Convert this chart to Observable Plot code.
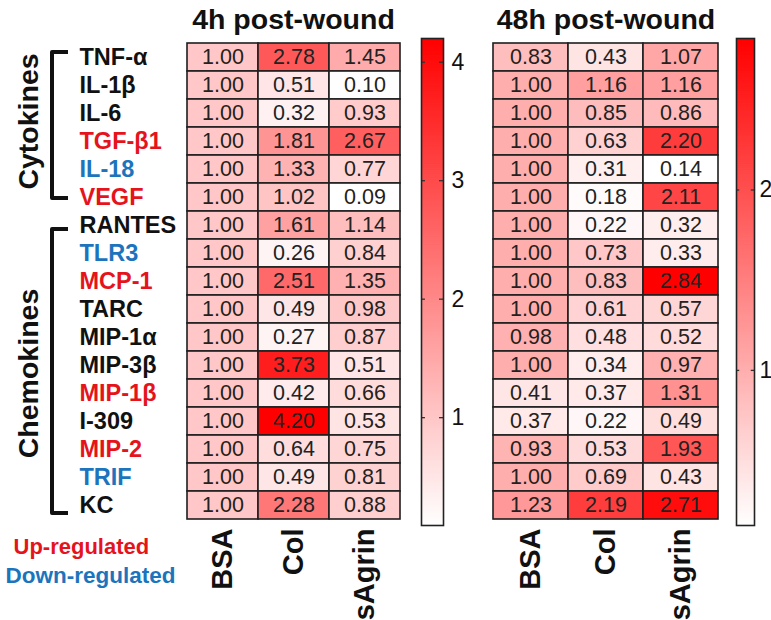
<!DOCTYPE html>
<html><head><meta charset="utf-8">
<script src="https://cdn.jsdelivr.net/npm/d3@7"></script>
<script src="https://cdn.jsdelivr.net/npm/@observablehq/plot@0.6"></script>
<style>
body{margin:0;background:#fff}
#chart{position:relative;width:771px;height:620px;overflow:hidden;background:#fff}
#chart svg{position:absolute;left:0;top:0}
</style>
</head><body><div id="chart"></div>
<script>
// ---- data ----
const genes = ["TNF-α","IL-1β","IL-6","TGF-β1","IL-18","VEGF","RANTES","TLR3","MCP-1","TARC","MIP-1α","MIP-3β","MIP-1β","I-309","MIP-2","TRIF","KC"];
const geneRegulation = ["none","none","none","up","down","up","none","down","up","none","none","none","up","none","up","down","none"];
const treatments = ["BSA","Col","sAgrin"];
const groupNames = ["Cytokines","Chemokines"];
const groupFirst = ["TNF-α","RANTES"];
const groupLast = ["VEGF","KC"];
const legendLabels = ["Up-regulated","Down-regulated"];

const h4_BSA    = [1.00,1.00,1.00,1.00,1.00,1.00,1.00,1.00,1.00,1.00,1.00,1.00,1.00,1.00,1.00,1.00,1.00];
const h4_Col    = [2.78,0.51,0.32,1.81,1.33,1.02,1.61,0.26,2.51,0.49,0.27,3.73,0.42,4.20,0.64,0.49,2.28];
const h4_sAgrin = [1.45,0.10,0.93,2.67,0.77,0.09,1.14,0.84,1.35,0.98,0.87,0.51,0.66,0.53,0.75,0.81,0.88];

const h48_BSA    = [0.83,1.00,1.00,1.00,1.00,1.00,1.00,1.00,1.00,1.00,0.98,1.00,0.41,0.37,0.93,1.00,1.23];
const h48_Col    = [0.43,1.16,0.85,0.63,0.31,0.18,0.22,0.73,0.83,0.61,0.48,0.34,0.37,0.22,0.53,0.69,2.19];
const h48_sAgrin = [1.07,1.16,0.86,2.20,0.14,2.11,0.32,0.33,2.84,0.57,0.52,0.97,1.31,0.49,1.93,0.43,2.71];

const ticks4 = [1,2,3,4];
const ticks48 = [1,2];

// ---- styling ----
const W = 771, H = 620;
const FONT = "'Liberation Sans', Arial, Helvetica, sans-serif";
const RED = "#e5141c", BLUE = "#1c74bd";
const regColor = {none: "#111", up: RED, down: BLUE};
const TOP = 38, BOTTOM = 524;

function table(cols) {
  const rows = [];
  treatments.forEach((t, j) => genes.forEach((g, i) => rows.push({gene: g, treatment: t, value: cols[j][i]})));
  return rows;
}
const rows4 = table([h4_BSA, h4_Col, h4_sAgrin]);
const rows48 = table([h48_BSA, h48_Col, h48_sAgrin]);

function colorOpts(domain) {
  return {type: "linear", domain, range: ["#ffffff", "#ff0000"], interpolate: "rgb"};
}

function bracket(first, last, xLine, xEnd, padTop, padBottom) {
  return function (...args) {
    const scales = args.find(a => a && typeof a.y === "function");
    const y = scales.y;
    const bw = y.bandwidth ? y.bandwidth() : 0;
    const y0 = y(first) + bw / 2 + padTop;
    const y1 = y(last) + bw / 2 + padBottom;
    return d3.create("svg:path")
      .attr("d", `M${xEnd},${y0}H${xLine}V${y1}H${xEnd}`)
      .attr("fill", "none").attr("stroke", "#111").attr("stroke-width", 4)
      .attr("stroke-linejoin", "round").node();
  };
}

function heatmap({rows, left, right, title, withLabels}) {
  const domain = d3.extent(rows, d => d.value);
  const marks = [
    Plot.cell(rows, {x: "treatment", y: "gene", fill: "value", stroke: "#1f1f1f", strokeWidth: 1.6, inset: 0}),
    Plot.text(rows, {x: "treatment", y: "gene", text: d => d.value.toFixed(2), fill: "#222", fontSize: 21.5}),
    Plot.axisX({tickRotate: -90, tickSize: 0, tickPadding: 4, fontSize: 29, fontWeight: "bold", label: null}),
    Plot.text([title], {text: d => d, frameAnchor: "top", dy: -10, lineAnchor: "bottom", fontSize: 28.5, fontWeight: "bold"})
  ];
  if (withLabels) {
    for (const reg of ["none", "up", "down"]) {
      marks.push(Plot.text(genes.filter((g, i) => geneRegulation[i] === reg), {
        y: d => d, text: d => d, frameAnchor: "left", textAnchor: "start", dx: 79 - left,
        fontSize: 23.5, fontWeight: "bold", fill: regColor[reg]
      }));
    }
    // group labels
    marks.push(Plot.text([groupNames[0]], {text: d => d, y: () => "IL-6", dy: 8, frameAnchor: "left", dx: 37 - left, rotate: -90, lineAnchor: "bottom", textAnchor: "middle", fontSize: 28.5, fontWeight: "bold"}));
    marks.push(Plot.text([groupNames[1]], {text: d => d, y: () => "MIP-3β", dy: 8, frameAnchor: "left", dx: 37 - left, rotate: -90, lineAnchor: "bottom", textAnchor: "middle", fontSize: 28.5, fontWeight: "bold"}));
    marks.push(bracket(groupFirst[0], groupLast[0], 52, 68, -5, 1));
    marks.push(bracket(groupFirst[1], groupLast[1], 52, 68, 4, 8));
    // regulation legend
    marks.push(Plot.text([legendLabels[0]], {text: d => d, frameAnchor: "bottom-left", dx: 13 - left, dy: 29, textAnchor: "start", lineAnchor: "bottom", fontSize: 22, fontWeight: "bold", fill: RED}));
    marks.push(Plot.text([legendLabels[1]], {text: d => d, frameAnchor: "bottom-left", dx: 5 - left, dy: 58, textAnchor: "start", lineAnchor: "bottom", fontSize: 22.5, fontWeight: "bold", fill: BLUE}));
  }
  return Plot.plot({
    width: W, height: H,
    marginLeft: left, marginRight: W - right, marginTop: TOP, marginBottom: H - BOTTOM,
    style: {fontFamily: FONT, background: "transparent", overflow: "visible", color: "#111"},
    x: {domain: treatments, padding: 0},
    y: {domain: genes, padding: 0, axis: null},
    color: colorOpts(domain),
    marks
  });
}

function colorbar({rows, left, right, ticks, labelDx}) {
  const [lo, hi] = d3.extent(rows, d => d.value);
  const n = 240, step = (hi - lo) / n;
  const slices = d3.range(n).map(i => ({y1: lo + i * step, y2: Math.min(hi, lo + (i + 1.6) * step), v: lo + (i + 0.5) * step}));
  return Plot.plot({
    width: W, height: H,
    marginLeft: left, marginRight: W - right, marginTop: TOP, marginBottom: H - 525,
    style: {fontFamily: FONT, background: "transparent", overflow: "visible", color: "#111"},
    x: {domain: [0, 1], axis: null},
    y: {domain: [lo, hi], axis: null},
    color: colorOpts([lo, hi]),
    marks: [
      Plot.rect(slices, {x1: 0, x2: 1, y1: "y1", y2: "y2", fill: "v"}),
      Plot.ruleY(ticks, {x1: 0, x2: 0.18, stroke: "#333", strokeWidth: 1.3}),
      Plot.ruleY(ticks, {x1: 0.82, x2: 1, stroke: "#333", strokeWidth: 1.3}),
      Plot.frame({stroke: "#222", strokeWidth: 1.6}),
      Plot.text(ticks, {y: d => d, text: d => String(d), frameAnchor: "right", dx: labelDx, textAnchor: "start", fontSize: 23, fill: "#111"})
    ]
  });
}

const chart = document.getElementById("chart");
chart.append(
  heatmap({rows: rows4, left: 186, right: 400, title: "4h post-wound", withLabels: true}),
  colorbar({rows: rows4, left: 421, right: 443, ticks: ticks4, labelDx: 8}),
  heatmap({rows: rows48, left: 492, right: 719, title: "48h post-wound", withLabels: false}),
  colorbar({rows: rows48, left: 736, right: 754, ticks: ticks48, labelDx: 5})
);
</script></body></html>
